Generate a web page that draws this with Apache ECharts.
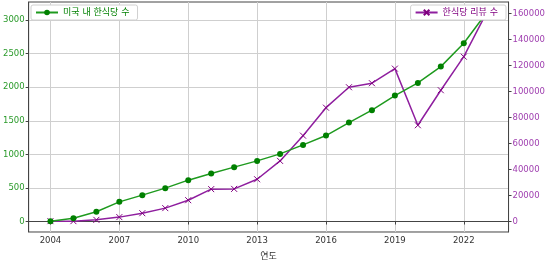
<!DOCTYPE html>
<html><head><meta charset="utf-8">
<script src="https://cdn.jsdelivr.net/npm/echarts@6/dist/echarts.min.js"></script>
<style>html,body{margin:0;padding:0;background:#fff}#c{width:548px;height:266px}</style>
</head><body><div id="c"></div>
<script>
const years = [2004,2005,2006,2007,2008,2009,2010,2011,2012,2013,2014,2015,2016,2017,2018,2019,2020,2021,2022,2023];
const restaurants = [5,50,145,293,393,497,616,714,810,903,1007,1141,1280,1473,1658,1875,2064,2307,2655,3113];
const reviews = [300,300,1300,3400,6400,10300,16400,24900,25100,32500,46600,66000,87500,103200,106300,117500,74000,100900,126700,160700];
const xTicks = [2004,2007,2010,2013,2016,2019,2022];
const leftTicks = [0,500,1000,1500,2000,2500,3000];
const rightTicks = [0,20000,40000,60000,80000,100000,120000,140000,160000];
const nameA = '미국 내 한식당 수';
const nameB = '한식당 리뷰 수';
const xLabel = '연도';

const FONT = '"DejaVu Sans","Noto Sans CJK KR",sans-serif';
const GREEN = '#008000', PURPLE = '#800080';
const plain = v => String(v);
const chart = echarts.init(document.getElementById('c'), null, {renderer:'canvas'});
chart.setOption({
  animation:false,
  textStyle:{fontFamily:FONT},
  grid:{left:28,right:39,top:2,bottom:34,show:true,borderColor:'#444',borderWidth:1,backgroundColor:'transparent'},
  legend:[
    {data:[nameA],left:31,top:5,padding:[3,8,3,4],itemWidth:22,itemHeight:7,itemGap:4,
     borderColor:'#d0d0d0',borderWidth:1,borderRadius:2,backgroundColor:'#fff',
     textStyle:{color:GREEN,fontSize:9,fontFamily:FONT}},
    {data:[nameB],right:42,top:5,padding:[3,8,3,4],itemWidth:22,itemHeight:7,
     borderColor:'#d0d0d0',borderWidth:1,borderRadius:2,backgroundColor:'#fff',
     textStyle:{color:PURPLE,fontSize:9,fontFamily:FONT}}
  ],
  xAxis:{type:'value',min:2003.05,max:2023.95,
    name:xLabel,nameLocation:'middle',nameGap:20,nameTextStyle:{color:'#333',fontSize:9,fontFamily:FONT},
    axisLine:{show:true,lineStyle:{color:'#444'}},
    axisTick:{show:true,length:3,customValues:xTicks,lineStyle:{color:'#444'}},
    axisLabel:{customValues:xTicks,formatter:plain,color:'#333',fontSize:8.5,margin:5,fontFamily:FONT},
    splitLine:{show:true,lineStyle:{color:'#cfcfcf',width:1}}},
  yAxis:[
    {type:'value',min:-156,max:3269,position:'left',
     axisLine:{show:true,lineStyle:{color:'#444'}},
     axisTick:{show:true,length:3,customValues:leftTicks,lineStyle:{color:'#444'}},
     axisLabel:{customValues:leftTicks,formatter:plain,color:'#2a9a2a',fontSize:8.5,margin:4,fontFamily:FONT},
     splitLine:{show:true,lineStyle:{color:'#cfcfcf',width:1}}},
    {type:'value',min:-8035,max:168700,position:'right',
     axisLine:{show:true,lineStyle:{color:'#444'}},
     axisTick:{show:true,length:3,customValues:rightTicks,lineStyle:{color:'#444'}},
     axisLabel:{customValues:rightTicks,formatter:plain,color:'#a040b0',fontSize:8.5,margin:4,fontFamily:FONT},
     splitLine:{show:false}}
  ],
  series:[
    {name:nameA,type:'line',yAxisIndex:0,data:years.map((y,i)=>[y,restaurants[i]]),
     symbol:'circle',symbolSize:6,lineStyle:{color:'#1e9a1e',width:1.5},itemStyle:{color:GREEN},z:3},
    {name:nameB,type:'line',yAxisIndex:1,data:years.map((y,i)=>[y,reviews[i]]),
     symbol:'path://M0,0L10,10M10,0L0,10',symbolSize:6,lineStyle:{color:'#8f1f9f',width:1.5},
     itemStyle:{color:'transparent',borderColor:PURPLE,borderWidth:1},z:2}
  ]
});
</script></body></html>
